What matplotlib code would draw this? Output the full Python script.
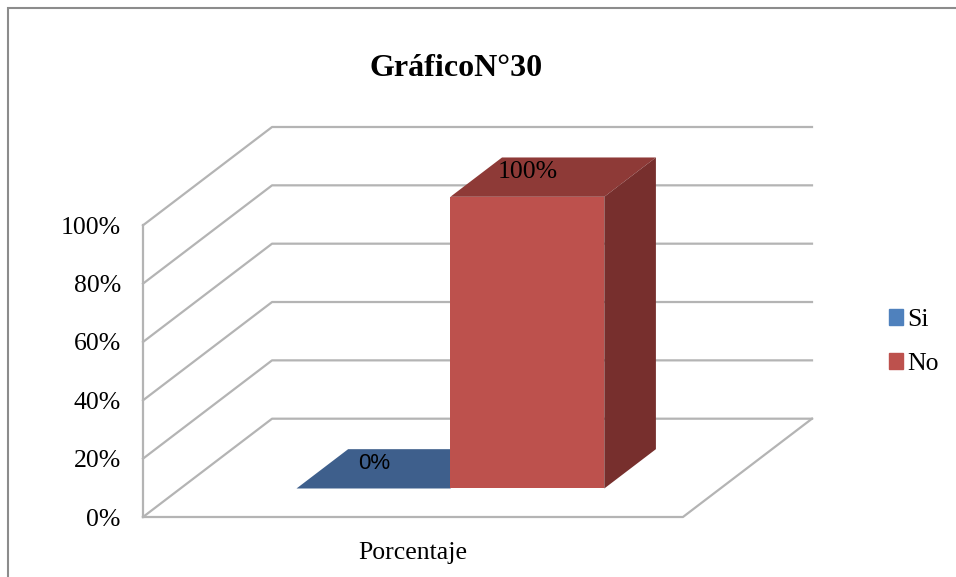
import numpy as np
import matplotlib.pyplot as plt
from matplotlib.patches import Polygon, Patch, Rectangle

plt.rcParams['font.family'] = ['Liberation Serif', 'DejaVu Serif']

# -----------------------------
# DATA
# -----------------------------
title = "GráficoN°30"
category = ["Porcentaje"]
series = ["Si", "No"]
values = [0, 100]
value_labels = ["0%", "100%"]
yticks = [0, 20, 40, 60, 80, 100]

# -----------------------------
# STYLE
# -----------------------------
front_colors = ["#4F81BD", "#BD514D"]
top_colors = ["#3E5F8C", "#8E3A37"]
side_colors = ["#385680", "#772F2D"]
label_fonts = ["Liberation Sans", "Liberation Serif"]
label_sizes = [16, 18.5]
grid_color = "#b4b4b4"

# oblique offset of the full depth (x in category units, y in percent)
DX, DY = 0.239, 33.7
bar_width = 0.285
z0, z1 = 0.29, 0.69


def proj(x, y, z):
    return (x + z * DX, y + z * DY)


fig = plt.figure(figsize=(9.56, 5.77), dpi=100)
ax = fig.add_axes([143 / 956, 60 / 577, 669 / 956, 390 / 577])
ax.set_xlim(-0.5, 0.5 + DX)
ax.set_ylim(0, 100 + DY)
for s in ax.spines.values():
    s.set_visible(False)

# -----------------------------
# WALLS / FLOOR
# -----------------------------
for v in yticks:
    pts = [proj(-0.5, v, 0), proj(-0.5, v, 1), proj(0.5, v, 1)]
    xs, ys = zip(*pts)
    ax.plot(xs, ys, color=grid_color, lw=1.6, clip_on=False, zorder=1)

xs, ys = zip(proj(-0.5, 0, 0), proj(-0.5, yticks[-1], 0))
ax.plot(xs, ys, color=grid_color, lw=1.6, clip_on=False, zorder=1)
xs, ys = zip(proj(-0.5, 0, 0), proj(0.5, 0, 0), proj(0.5, 0, 1))
ax.plot(xs, ys, color=grid_color, lw=1.6, clip_on=False, zorder=1)

# -----------------------------
# BARS
# -----------------------------
n = len(series)
for i, v in enumerate(values):
    xl = -bar_width * n / 2 + i * bar_width
    xr = xl + bar_width
    fx, fy = proj(xl, 0, z0)
    ax.bar(fx, v, bar_width, bottom=fy, align='edge',
           color=front_colors[i], lw=0, zorder=3)
    top = [proj(xl, v, z0), proj(xr, v, z0), proj(xr, v, z1), proj(xl, v, z1)]
    ax.add_patch(Polygon(top, closed=True, fc=top_colors[i], lw=0, zorder=3))
    if v > 0:
        side = [proj(xr, 0, z0), proj(xr, v, z0), proj(xr, v, z1), proj(xr, 0, z1)]
        ax.add_patch(Polygon(side, closed=True, fc=side_colors[i], lw=0, zorder=3))
    ax.annotate(value_labels[i], xy=proj((xl + xr) / 2, v, (z0 + z1) / 2),
                xytext=(-18, 4), textcoords='offset points',
                ha='center', va='center', fontsize=label_sizes[i],
                family=label_fonts[i], zorder=5)

# -----------------------------
# AXES TEXT
# -----------------------------
ax.set_yticks(yticks, labels=[f"{t}%" for t in yticks])
ax.tick_params(axis='y', length=0, pad=16, labelsize=18.5)
ax.set_xticks([0], labels=category)
ax.tick_params(axis='x', length=0, pad=18, labelsize=18.5)

fig.text(456 / 956, 1 - 68 / 577, title, ha='center', va='center',
         fontsize=23, fontweight='bold')

handles = [Patch(color=c, label=s) for c, s in zip(front_colors, series)]
fig.legend(handles=handles, loc='center left',
           bbox_to_anchor=(866 / 956, 1 - 342 / 577), frameon=False,
           fontsize=18.5, handlelength=0.55, handleheight=0.55,
           handletextpad=0.15, labelspacing=0.85)

# outer chart border
fig.add_artist(Rectangle((8 / 956, -0.1), 1.2, 1.1 - 8 / 577,
                         transform=fig.transFigure, fill=False,
                         ec="#8c8c8c", lw=1.5))

plt.savefig("out.png", dpi=100)
